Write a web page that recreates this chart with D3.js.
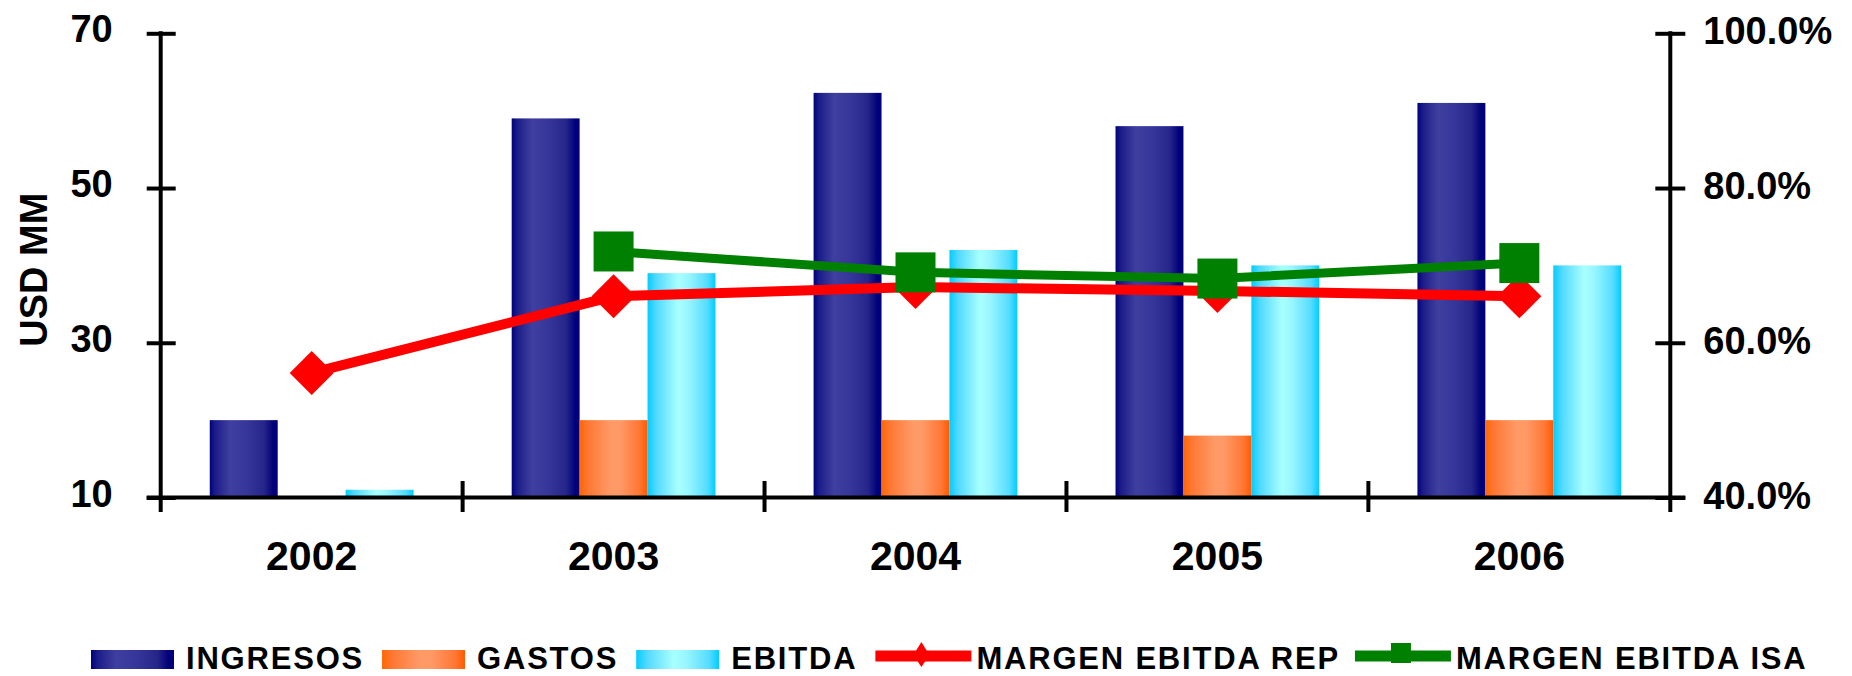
<!DOCTYPE html>
<html>
<head>
<meta charset="utf-8">
<script src="https://cdn.jsdelivr.net/npm/d3@7/dist/d3.min.js"></script>
<style>
  html, body { margin: 0; padding: 0; background: #fff; }
  svg { display: block; }
  text { font-family: "Liberation Sans", Arial, sans-serif; font-weight: bold; fill: #000; }
</style>
</head>
<body>
<svg id="chart" width="1852" height="676"></svg>
<script>
// Years and series (USD MM for bars, % for margins)
const years = ["2002", "2003", "2004", "2005", "2006"];
const ingresos = [20, 59, 62.3, 58, 61];
const gastos = [null, 20, 20, 18, 20];
const ebitda = [11, 39, 42, 40, 40];
const margenRep = [56.1, 66.0, 67.2, 66.7, 66.0];
const margenIsa = [null, 71.8, 69.1, 68.3, 70.3];
const leftTicks = [10, 30, 50, 70];
const rightTicks = [40, 60, 80, 100];
const barSeries = ["INGRESOS", "GASTOS", "EBITDA"];
const lineSeries = ["MARGEN EBITDA REP", "MARGEN EBITDA ISA"];

const svg = d3.select("#chart");
const plotL = 160.7, plotR = 1670.3, plotT = 33.3, plotB = 497.5;

const x = d3.scaleBand().domain(years).range([plotL, plotR]);
const y = d3.scaleLinear().domain([10, 70]).range([plotB, plotT]);
const yR = d3.scaleLinear().domain([40, 100]).range([plotB, plotT]);

const groupW = x.bandwidth() * 0.675;
const x1 = d3.scaleBand().domain(barSeries)
  .range([(x.bandwidth() - groupW) / 2, (x.bandwidth() + groupW) / 2]);

// Horizontal cylinder-like gradients for the bars
const defs = svg.append("defs");
const gradStops = {
  INGRESOS: [[0, "#000080"], [0.08, "#1c1c88"], [0.3, "#3f3fa0"], [0.55, "#36369a"], [0.8, "#25258a"], [0.94, "#000078"], [1, "#000080"]],
  GASTOS: [[0, "#ff6600"], [0.12, "#ff7733"], [0.45, "#ff9966"], [0.6, "#ff9966"], [0.88, "#ff7733"], [1, "#ff5a00"]],
  EBITDA: [[0, "#00ccff"], [0.12, "#4fd8ff"], [0.45, "#a8ffff"], [0.6, "#99f6ff"], [0.88, "#55dcff"], [1, "#00ccff"]]
};
barSeries.forEach((s, i) => {
  const g = defs.append("linearGradient").attr("id", "grad" + i)
    .attr("x1", "0").attr("x2", "1").attr("y1", "0").attr("y2", "0");
  gradStops[s].forEach(([o, c]) => g.append("stop").attr("offset", o).attr("stop-color", c));
});

// Bars
const barData = [ingresos, gastos, ebitda];
barSeries.forEach((s, i) => {
  svg.append("g").selectAll("rect")
    .data(years.map((yr, k) => ({ yr, v: barData[i][k] })).filter(d => d.v != null))
    .join("rect")
    .attr("x", d => x(d.yr) + x1(s))
    .attr("width", x1.bandwidth())
    .attr("y", d => y(d.v))
    .attr("height", d => y(10) - y(d.v))
    .attr("fill", "url(#grad" + i + ")");
});

// Axes
const axisW = 4;
const gl = svg.append("g").attr("transform", `translate(${plotL},0)`)
  .call(d3.axisLeft(y).tickValues(leftTicks).tickSizeOuter(0).tickSizeInner(14).tickPadding(34));
gl.select(".domain").remove();
gl.selectAll(".tick line").attr("x1", -14).attr("x2", 15).attr("stroke", "#000").attr("stroke-width", axisW);
gl.selectAll(".tick text").attr("dy", 8.5).style("font-size", "38px");

const gr = svg.append("g").attr("transform", `translate(${plotR},0)`)
  .call(d3.axisRight(yR).tickValues(rightTicks).tickFormat(d => d3.format(".1f")(d) + "%")
    .tickSizeOuter(0).tickSizeInner(15).tickPadding(18));
gr.select(".domain").remove();
gr.selectAll(".tick line").attr("x1", -15).attr("x2", 15).attr("stroke", "#000").attr("stroke-width", axisW);
gr.selectAll(".tick text").attr("dy", 10.5).style("font-size", "38px");

const gb = svg.append("g").attr("transform", `translate(0,${plotB})`)
  .call(d3.axisBottom(x).tickSize(0).tickSizeOuter(0));
gb.select(".domain").remove();
gb.selectAll(".tick text").attr("y", 72.5).attr("dy", 0).style("font-size", "41px");

// Axis lines
svg.append("line").attr("x1", plotL).attr("x2", plotL).attr("y1", plotT - 2).attr("y2", plotB + 14.5)
  .attr("stroke", "#000").attr("stroke-width", axisW);
svg.append("line").attr("x1", plotR).attr("x2", plotR).attr("y1", plotT - 2).attr("y2", plotB + 14.5)
  .attr("stroke", "#000").attr("stroke-width", axisW);
svg.append("line").attr("x1", plotL - 14).attr("x2", plotR + 15).attr("y1", plotB).attr("y2", plotB)
  .attr("stroke", "#000").attr("stroke-width", axisW);
// Category separators
svg.append("g").selectAll("line").data(years.slice(1)).join("line")
  .attr("x1", d => x(d)).attr("x2", d => x(d))
  .attr("y1", plotB - 16.5).attr("y2", plotB + 14.5)
  .attr("stroke", "#000").attr("stroke-width", axisW);

// Axis title
svg.append("text").attr("transform", "translate(46.5,269.7) rotate(-90)")
  .attr("text-anchor", "middle").style("font-size", "38px").text("USD MM");

// Margin lines
const cx = yr => x(yr) + x.bandwidth() / 2;
const lineGen = d3.line().defined(d => d.v != null).x(d => cx(d.yr)).y(d => yR(d.v));
const diamond = r => `M0,${-r}L${r},0L0,${r}L${-r},0Z`;

const repPts = years.map((yr, k) => ({ yr, v: margenRep[k] }));
const isaPts = years.map((yr, k) => ({ yr, v: margenIsa[k] }));

svg.append("path").datum(repPts).attr("d", lineGen)
  .attr("fill", "none").attr("stroke", "#ff0000").attr("stroke-width", 10);
svg.append("g").selectAll("path").data(repPts.filter(d => d.v != null)).join("path")
  .attr("transform", d => `translate(${cx(d.yr)},${yR(d.v)})`)
  .attr("d", diamond(22)).attr("fill", "#ff0000");

svg.append("path").datum(isaPts).attr("d", lineGen)
  .attr("fill", "none").attr("stroke", "#008000").attr("stroke-width", 9);
svg.append("g").selectAll("rect").data(isaPts.filter(d => d.v != null)).join("rect")
  .attr("x", d => cx(d.yr) - 20).attr("y", d => yR(d.v) - 20)
  .attr("width", 40).attr("height", 40).attr("fill", "#008000");

// Legend
const legend = svg.append("g");
let lx = 91;
const legY = 656;
const legBase = 669;
barSeries.forEach((s, i) => {
  legend.append("rect").attr("x", lx).attr("y", legY - 6).attr("width", 83).attr("height", 19)
    .attr("fill", "url(#grad" + i + ")");
  lx += 83 + 12;
  const t = legend.append("text").attr("x", lx).attr("y", legBase)
    .style("font-size", "31px").style("letter-spacing", "1.8px").text(s);
  lx += t.node().getComputedTextLength() + 18;
});
lineSeries.forEach((s, i) => {
  const col = i === 0 ? "#ff0000" : "#008000";
  legend.append("line").attr("x1", lx).attr("x2", lx + 96).attr("y1", legY).attr("y2", legY)
    .attr("stroke", col).attr("stroke-width", 11);
  if (i === 0) {
    legend.append("path").attr("transform", `translate(${lx + 46},${legY - 1})`)
      .attr("d", "M0,-13L8,0L0,12L-8,0Z").attr("fill", col);
  } else {
    legend.append("rect").attr("x", lx + 36).attr("y", legY - 13).attr("width", 20).attr("height", 20)
      .attr("fill", col);
  }
  lx += 96 + 5;
  const t = legend.append("text").attr("x", lx).attr("y", legBase)
    .style("font-size", "31px").style("letter-spacing", "1.8px").text(s);
  lx += t.node().getComputedTextLength() + 15;
});
</script>
</body>
</html>
